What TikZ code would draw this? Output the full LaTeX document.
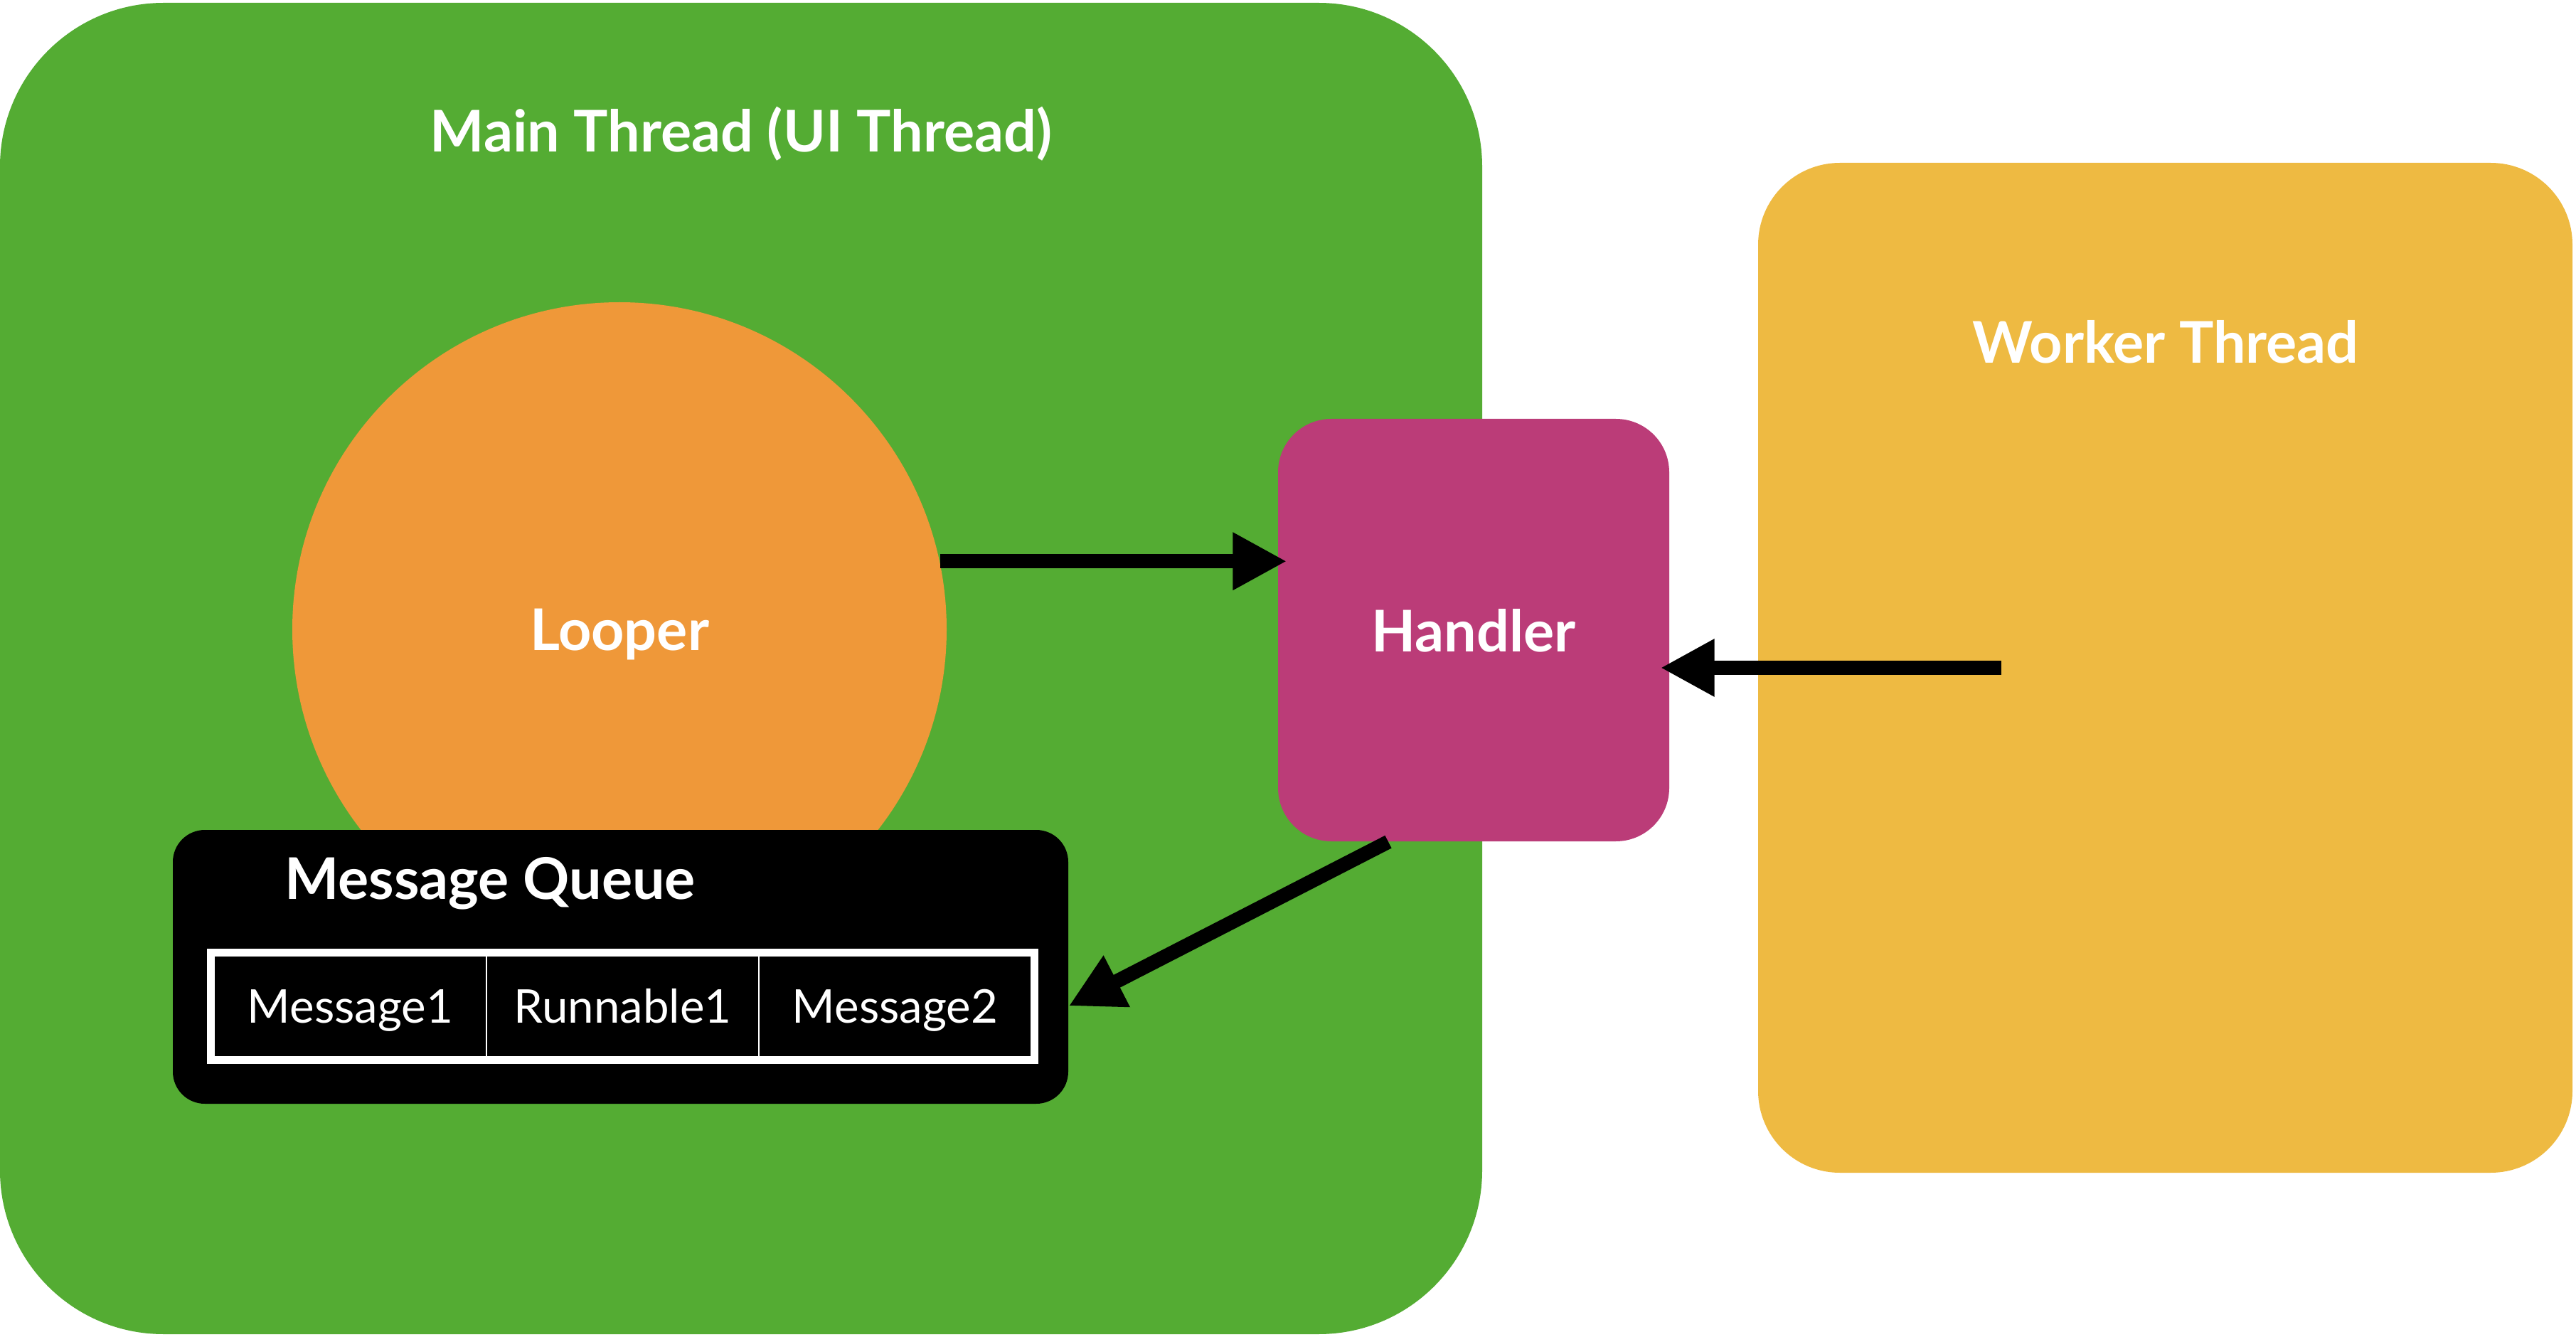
\documentclass[tikz,border=0pt]{standalone}
\usepackage{fontspec}
\setmainfont{Lato}
\usepackage{tikz}
\usetikzlibrary{positioning,fit}
\usetikzlibrary{arrows.meta}
\definecolor{mainGreen}{RGB}{84,172,51}
\definecolor{looperOrange}{RGB}{239,152,57}
\definecolor{handlerPink}{RGB}{187,60,120}
\definecolor{workerYellow}{RGB}{238,186,66}
\tikzstyle{thread}=[rectangle, anchor=center, inner sep=0]
\tikzstyle{title}=[text=white, font=\fontsize{23}{28}\selectfont\bfseries, text depth=0pt]
\tikzstyle{cell}=[rectangle, draw=white, line width=0.6pt, minimum width=3.83cm, minimum height=1.42cm, inner sep=0, outer sep=0, text=white, font=\fontsize{18.6}{22}\selectfont, text height=0.47cm, text depth=0pt]
\tikzstyle{flow}=[->, line width=0.2cm, draw=black]
\tikzset{>={Triangle[length=0.76cm, width=0.76cm]}}

\begin{document}
\begin{tikzpicture}[]
        \useasboundingbox (0,0) rectangle (36.22,-18.80);

        \node (main)[thread, fill=mainGreen, minimum width=20.84cm, minimum height=18.72cm, rounded corners=2.3cm] at (10.42,-9.40) {};
        \node (mainTitle)[title] at (10.42,-1.82) {Main Thread (UI Thread)};

        \node (worker)[thread, fill=workerYellow, minimum width=11.45cm, minimum height=14.20cm, rounded corners=1.15cm] at (30.445,-9.39) {};
        \node (workerTitle)[title] at (30.45,-4.80) {Worker Thread};

        \node (looper)[circle, fill=looperOrange, minimum size=9.2cm, inner sep=0, title] at (8.71,-8.85) {Looper};

        \node (handler)[thread, fill=handlerPink, minimum width=5.50cm, minimum height=5.94cm, rounded corners=0.75cm, title] at (20.72,-8.86) {Handler};

        \node (queue)[thread, fill=black, minimum width=12.59cm, minimum height=3.85cm, rounded corners=0.45cm] at (8.725,-13.595) {};
        \node (queueTitle)[title, anchor=base west] at (3.88,-12.64) {Message Queue};

        \node (cell1)[cell] at (4.925,-14.15) {Message1};
        \foreach \x/\t [remember=\x as \lastx (initially 1)] in {2/Runnable1,3/Message2}{
            \node (cell\x)[cell, right=0cm of cell\lastx]{\t};
        };
        \node (cells) [draw=white, line width=0.1cm, inner sep=0.05cm, fit=(cell1) (cell3)] {};

        \draw [flow] (looper.12) -- ([xshift=0.13cm]looper.12 -| handler.west);
        \draw [flow] ([xshift=-2.31cm]worker.center) -- ([xshift=-0.13cm]worker.center -| handler.east);
        \draw [flow] ([xshift=-1.20cm]handler.south) -- ([yshift=-0.55cm]queue.east);

    \end{tikzpicture}
\end{document}
